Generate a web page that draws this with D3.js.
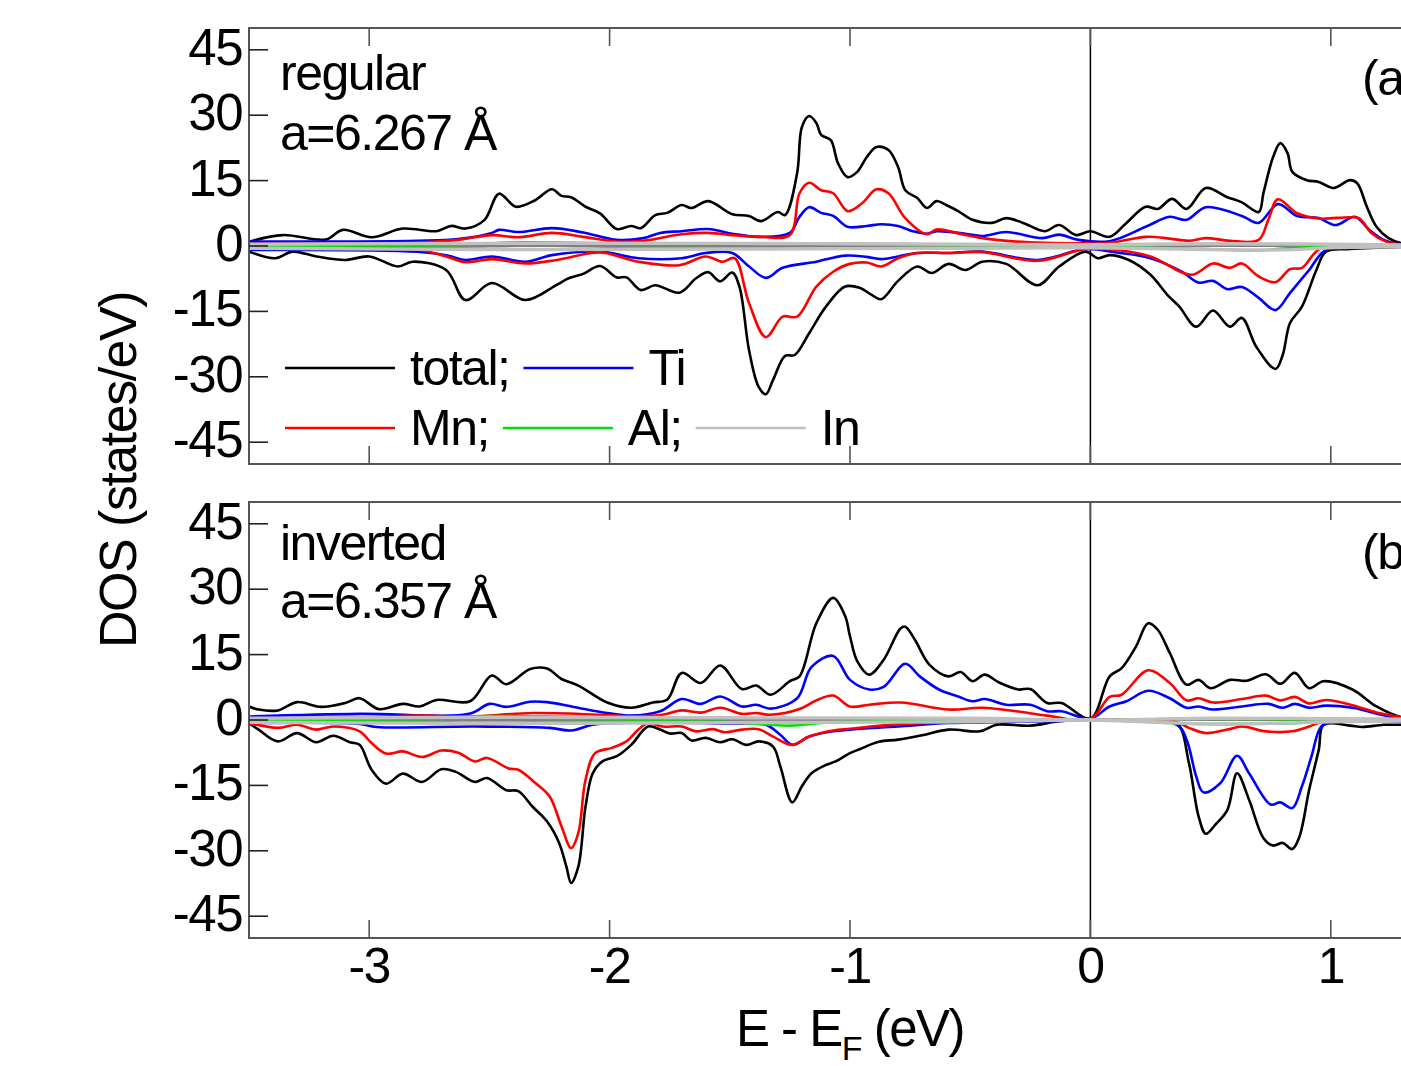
<!DOCTYPE html>
<html>
<head>
<meta charset="utf-8">
<script src="https://cdn.jsdelivr.net/npm/d3@7"></script>
<style>
body { margin: 0; background: #fff; overflow: hidden; }
text { font-family: "Liberation Sans", Arial, sans-serif; fill: #000; letter-spacing: -1.5px; }
</style>
</head>
<body>
<script>
"use strict";

var width = 1401,
    height = 1066;

var xTicks = [-3, -2, -1, 0, 1];
var yTicks = [-45, -30, -15, 0, 15, 30, 45];

var seriesNames = ["total", "Ti", "Mn", "Al", "In"];
var seriesColors = ["#000000", "#0000ff", "#ff0000", "#00e000", "#c0c0c0"];

// ---- panel (a): regular, a=6.267 A  -- [E (eV), DOS]
var aTotalUp = [[-3.5,1.0],[-3.36,2.5],[-3.18,1.5],[-3.11,3.7],[-2.99,2.0],[-2.86,4.0],[-2.72,3.4],[-2.66,4.6],[-2.60,4.0],[-2.52,6.0],[-2.46,12.0],[-2.39,9.0],[-2.31,10.5],[-2.24,13.0],[-2.20,11.5],[-2.16,11.2],[-2.10,9.0],[-2.04,7.5],[-1.97,3.9],[-1.91,4.6],[-1.87,4.1],[-1.81,7.1],[-1.76,7.6],[-1.70,9.4],[-1.66,8.7],[-1.59,10.3],[-1.49,7.3],[-1.42,6.9],[-1.37,5.7],[-1.30,7.8],[-1.27,7.1],[-1.22,16.7],[-1.20,27.3],[-1.17,29.8],[-1.14,28.2],[-1.12,25.5],[-1.08,24.3],[-1.05,19],[-1.01,15.8],[-0.97,17],[-0.93,20.4],[-0.89,22.7],[-0.84,22],[-0.80,18.1],[-0.77,12.8],[-0.72,11],[-0.68,8.7],[-0.64,10.3],[-0.60,9.4],[-0.55,8],[-0.49,6],[-0.41,5.3],[-0.35,6.4],[-0.28,5.3],[-0.19,3.4],[-0.13,4.8],[-0.06,2.5],[0.0,3.4],[0.08,2.1],[0.15,5.3],[0.23,9],[0.28,8.5],[0.34,10.8],[0.40,8.5],[0.48,13.3],[0.57,11.2],[0.63,10],[0.70,7.8],[0.72,12.2],[0.76,20.4],[0.79,23.6],[0.82,21.3],[0.84,17],[0.90,15.1],[0.95,14.7],[1.01,13.3],[1.08,15.1],[1.11,14.4],[1.15,9],[1.19,4.4],[1.24,1.8],[1.29,0.7],[1.35,0.3],[1.5,0.2]];
var aTotalDown = [[-3.5,-1.3],[-3.39,-2.8],[-3.32,-1.3],[-3.22,-2.4],[-3.10,-3.2],[-3.0,-2.4],[-2.88,-4.7],[-2.82,-3.6],[-2.68,-5.5],[-2.60,-12.4],[-2.49,-8.5],[-2.35,-12.4],[-2.22,-8.9],[-2.17,-7.4],[-2.11,-6.4],[-2.04,-4.6],[-1.97,-7.2],[-1.93,-7.2],[-1.87,-10.1],[-1.81,-9],[-1.71,-10.7],[-1.64,-7.4],[-1.59,-6],[-1.54,-8.1],[-1.49,-6.1],[-1.46,-9.3],[-1.42,-23.9],[-1.38,-32.3],[-1.35,-34],[-1.32,-30.7],[-1.27,-25.2],[-1.23,-25],[-1.17,-20],[-1.10,-13.9],[-1.02,-9.3],[-0.96,-9.6],[-0.91,-11.2],[-0.87,-12.2],[-0.80,-8],[-0.72,-4.7],[-0.66,-6.2],[-0.59,-4.1],[-0.52,-5.5],[-0.45,-3.6],[-0.35,-4.1],[-0.22,-9],[-0.13,-4.7],[-0.02,-1.3],[0.03,-2.8],[0.08,-2.1],[0.16,-3.2],[0.25,-6.6],[0.32,-11.2],[0.37,-13.9],[0.44,-18.5],[0.51,-14.8],[0.58,-18.5],[0.63,-16.5],[0.69,-23.1],[0.77,-28.2],[0.80,-25],[0.83,-17.7],[0.88,-13.9],[0.94,-5.5],[0.98,-1.3],[1.08,-0.7],[1.3,-0.2],[1.5,-0.1]];
var aTiUp = [[-3.5,1],[-2.8,1.2],[-2.63,1.6],[-2.49,3],[-2.46,3.7],[-2.38,3.2],[-2.24,4.1],[-2.11,3.1],[-1.97,1.4],[-1.86,1.8],[-1.79,3],[-1.70,3.4],[-1.59,3.9],[-1.49,2.8],[-1.37,2.1],[-1.25,3],[-1.21,6.7],[-1.17,8.9],[-1.12,7.6],[-1.07,6.9],[-1.01,4.4],[-0.93,4.6],[-0.87,5],[-0.80,4.6],[-0.74,3.4],[-0.68,2.8],[-0.64,3.4],[-0.52,2.8],[-0.45,2.3],[-0.35,3.2],[-0.20,1.8],[-0.13,2.6],[-0.05,1.4],[0.08,1.1],[0.23,4.4],[0.33,6.7],[0.40,6],[0.48,8.9],[0.63,6.9],[0.70,5.3],[0.78,9.6],[0.86,6.9],[0.95,6.4],[1.02,4.8],[1.10,6.7],[1.16,3.7],[1.22,1.4],[1.3,0.3],[1.5,0.1]];
var aTiDown = [[-3.5,-0.9],[-2.8,-1.3],[-2.68,-2.1],[-2.60,-3.2],[-2.49,-2.4],[-2.35,-3.6],[-2.24,-2.1],[-2.04,-1.3],[-1.88,-2.8],[-1.70,-2.8],[-1.60,-1.6],[-1.49,-1.6],[-1.42,-4.7],[-1.35,-7.3],[-1.28,-5],[-1.14,-3.6],[-1.02,-2.2],[-0.93,-2.5],[-0.87,-3],[-0.80,-2.4],[-0.72,-1.6],[-0.59,-1.6],[-0.45,-1.3],[-0.22,-3.2],[-0.02,-0.7],[0.11,-1.5],[0.25,-2.8],[0.38,-5.9],[0.45,-8.4],[0.51,-8],[0.57,-9.9],[0.63,-9.4],[0.70,-11.9],[0.77,-14.7],[0.83,-10.8],[0.91,-5.5],[0.98,-0.9],[1.15,-0.2],[1.5,-0.1]];
var aMnUp = [[-3.5,0.5],[-2.8,0.8],[-2.63,1.4],[-2.49,2.5],[-2.38,2],[-2.24,3],[-2.11,2.1],[-1.97,1],[-1.86,1.2],[-1.70,2.7],[-1.59,3],[-1.47,2.4],[-1.37,2.1],[-1.25,2.5],[-1.21,12.1],[-1.17,14.5],[-1.12,12.8],[-1.07,12.1],[-1.01,8],[-0.95,9.8],[-0.89,13],[-0.84,12.1],[-0.77,6.4],[-0.68,2.7],[-0.64,3.8],[-0.55,2.9],[-0.45,1.8],[-0.31,1],[-0.03,0.6],[0.08,0.7],[0.23,2.1],[0.33,1.7],[0.41,1.2],[0.48,1.8],[0.58,1.2],[0.70,1.4],[0.74,6],[0.78,10.7],[0.86,7.5],[0.95,6.3],[1.08,6.6],[1.12,6.3],[1.17,2.9],[1.23,1],[1.3,0.3],[1.5,0.1]];
var aMnDown = [[-3.5,-0.5],[-2.8,-0.8],[-2.68,-2.4],[-2.60,-3.7],[-2.49,-3],[-2.35,-4],[-2.22,-3.2],[-2.04,-1.5],[-1.88,-3.6],[-1.71,-4.4],[-1.60,-2.4],[-1.53,-3.6],[-1.48,-2.8],[-1.42,-13.1],[-1.35,-20.9],[-1.28,-16.2],[-1.22,-16.2],[-1.14,-9.3],[-1.07,-5.9],[-1.00,-4.1],[-0.93,-3.8],[-0.87,-4.7],[-0.80,-2.8],[-0.72,-1.6],[-0.59,-1.6],[-0.45,-1.4],[-0.22,-3.4],[-0.02,-0.7],[0.11,-0.9],[0.25,-2.4],[0.42,-6.6],[0.51,-4],[0.58,-5],[0.63,-4],[0.70,-7],[0.77,-8.3],[0.83,-5.3],[0.88,-5],[0.96,-0.5],[1.3,0],[1.5,0]];
var aAlUp = [[-3.5,0.2],[-2.6,0.3],[-2.4,0.8],[-2.0,0.6],[-1.6,0.5],[-1.2,0.4],[-0.8,0.4],[-0.4,0.3],[0,0.2],[0.4,0.3],[0.8,0.3],[1.2,0.1],[1.5,0]];
var aAlDown = [[-3.5,-0.2],[-2.6,-0.5],[-2.3,-0.8],[-2.0,-0.5],[-1.5,-0.5],[-1.0,-0.6],[-0.5,-0.4],[0,-0.3],[0.4,-0.6],[0.7,-1.0],[0.8,-0.6],[1.0,-0.2],[1.5,0]];
var aInUp = [[-3.5,0.4],[-2.5,0.6],[-1.5,0.6],[-1.0,0.5],[-0.5,0.4],[0,0.3],[0.5,0.5],[1.0,0.4],[1.5,0.1]];
var aInDown = [[-3.5,-0.5],[-2.5,-0.8],[-1.5,-0.7],[-1.0,-0.6],[-0.5,-0.5],[0,-0.4],[0.5,-0.8],[0.8,-0.9],[1.0,-0.4],[1.5,-0.1]];

// ---- panel (b): inverted, a=6.357 A
var bTotalUp = [[-3.5,3.1],[-3.46,2.4],[-3.38,2.2],[-3.30,4.1],[-3.20,3],[-3.10,3.9],[-3.04,5],[-2.96,2.5],[-2.86,3.7],[-2.79,3.1],[-2.72,4.6],[-2.58,4.3],[-2.49,10.2],[-2.43,8.2],[-2.33,11.7],[-2.26,11.8],[-2.20,9.4],[-2.13,7.9],[-2.01,4],[-1.91,2.8],[-1.82,4],[-1.76,4.7],[-1.70,10.8],[-1.62,8.5],[-1.54,12.5],[-1.45,7.1],[-1.39,7.9],[-1.33,5.8],[-1.25,8.9],[-1.21,10],[-1.14,22.2],[-1.07,28],[-1.02,23.8],[-1.00,19.2],[-0.97,13.5],[-0.92,10.4],[-0.86,13.8],[-0.79,21],[-0.77,21.4],[-0.73,18.4],[-0.67,12.7],[-0.59,10],[-0.54,11],[-0.49,8.9],[-0.44,10.4],[-0.38,8.6],[-0.30,7],[-0.25,7.1],[-0.18,3.9],[-0.12,3.9],[0.0,0.3],[0.08,10],[0.13,11.9],[0.19,16.9],[0.24,22.2],[0.28,20.7],[0.33,15.4],[0.40,8.1],[0.45,9.2],[0.50,7.3],[0.58,9.2],[0.65,9],[0.73,10.5],[0.79,8.3],[0.85,10.8],[0.91,7.3],[0.97,8.9],[1.09,7],[1.19,3.1],[1.29,0.7],[1.4,0.3],[1.5,0.2]];
var bTotalDown = [[-3.5,-0.7],[-3.46,-2.2],[-3.38,-4.9],[-3.30,-3],[-3.22,-5.1],[-3.15,-3.6],[-3.08,-5.1],[-3.04,-5.7],[-2.99,-11.4],[-2.93,-14.6],[-2.86,-12.3],[-2.78,-14.2],[-2.70,-11.3],[-2.64,-11.9],[-2.56,-14.2],[-2.51,-13.3],[-2.43,-16.1],[-2.38,-16.3],[-2.32,-19.9],[-2.26,-23.3],[-2.21,-28.2],[-2.18,-33.6],[-2.16,-37.4],[-2.13,-33.6],[-2.10,-19.8],[-2.07,-12.2],[-2.03,-9.5],[-1.97,-8.3],[-1.91,-5.7],[-1.84,-1.5],[-1.79,-2.2],[-1.75,-3.1],[-1.70,-3],[-1.66,-4.7],[-1.60,-4.1],[-1.54,-5.1],[-1.49,-4.4],[-1.43,-5.7],[-1.38,-4.9],[-1.32,-6.1],[-1.29,-10.6],[-1.24,-18.9],[-1.20,-15.2],[-1.16,-12.2],[-1.10,-10.3],[-1.06,-9.5],[-1.00,-7.6],[-0.96,-6.7],[-0.88,-5],[-0.80,-4.5],[-0.70,-3.5],[-0.59,-2.2],[-0.46,-2.6],[-0.39,-1.1],[-0.25,-1.3],[-0.13,-0.3],[0.0,0],[0.25,-0.2],[0.36,-0.7],[0.41,-9.9],[0.45,-22.1],[0.48,-26.1],[0.52,-24],[0.57,-20.6],[0.61,-12.2],[0.66,-18.3],[0.72,-27.1],[0.76,-28.8],[0.80,-28.2],[0.84,-29.6],[0.87,-26.7],[0.91,-16],[0.95,-6.8],[0.97,-1.1],[1.08,-1.3],[1.13,-1.6],[1.22,-1.1],[1.3,-1.1],[1.5,-0.8]];
var bTiUp = [[-3.5,0.8],[-3.04,1.4],[-2.58,1.5],[-2.50,3.7],[-2.43,3],[-2.33,4.2],[-2.26,4.1],[-2.15,3],[-2.01,1.6],[-1.91,1],[-1.79,2],[-1.70,4.8],[-1.62,3.7],[-1.54,5.4],[-1.45,3.1],[-1.39,3.5],[-1.33,2.6],[-1.22,5],[-1.16,12.2],[-1.07,14.7],[-1.00,9.2],[-0.92,7],[-0.86,7.6],[-0.77,12.9],[-0.71,10],[-0.63,7],[-0.55,5.4],[-0.49,4.3],[-0.44,4.8],[-0.35,3.5],[-0.25,3.5],[-0.18,2],[-0.12,2],[0.0,0.3],[0.08,3.1],[0.15,4.3],[0.24,6.7],[0.33,5],[0.40,2.8],[0.45,3.1],[0.51,2.4],[0.63,3.1],[0.74,3.7],[0.80,2.8],[0.85,3.7],[0.91,2.8],[0.98,3.3],[1.09,2.8],[1.21,1.2],[1.29,0.3],[1.5,0.1]];
var bTiDown = [[-3.5,-0.7],[-3.04,-0.9],[-2.97,-1.6],[-2.56,-1.5],[-2.25,-1.8],[-2.16,-2.4],[-2.07,-1.1],[-1.91,-0.6],[-1.76,-0.6],[-1.62,-0.7],[-1.49,-0.8],[-1.35,-1.1],[-1.29,-3.4],[-1.24,-5.7],[-1.17,-3.8],[-1.07,-2.6],[-1.00,-2.2],[-0.80,-1.5],[-0.59,-0.7],[-0.17,-0.3],[0.0,0],[0.36,-1.1],[0.40,-4.5],[0.44,-12.9],[0.47,-16.6],[0.54,-14.5],[0.61,-8.2],[0.66,-12.2],[0.75,-19.4],[0.79,-18.9],[0.84,-20.2],[0.88,-15.2],[0.92,-8.3],[0.96,-1.5],[1.01,-0.5],[1.3,-0.4],[1.5,-0.3]];
var bMnUp = [[-3.5,0.3],[-3.0,0.6],[-2.8,1],[-2.58,0.8],[-2.32,1.6],[-2.04,1.2],[-1.91,0.8],[-1.78,1.2],[-1.70,2.2],[-1.62,1.7],[-1.54,2.8],[-1.45,1.4],[-1.39,1.6],[-1.33,1.2],[-1.21,2.5],[-1.14,4.5],[-1.07,5.6],[-1.00,3.1],[-0.92,3.5],[-0.79,4],[-0.59,2.4],[-0.45,2.8],[-0.31,2],[-0.18,1],[0.0,0.2],[0.08,5.3],[0.13,5.8],[0.24,11.4],[0.33,8.5],[0.40,4.5],[0.45,5],[0.51,4],[0.63,4.8],[0.73,5.6],[0.79,4.5],[0.85,5.3],[0.91,3.8],[0.98,4.6],[1.09,3.4],[1.19,1.7],[1.29,0.7],[1.4,0.2],[1.5,0.1]];
var bMnDown = [[-3.5,-0.7],[-3.38,-1.8],[-3.30,-1.1],[-3.22,-2.2],[-3.15,-1.5],[-3.04,-2.6],[-2.99,-5.3],[-2.93,-7.7],[-2.86,-7.2],[-2.78,-8.5],[-2.70,-7],[-2.63,-7.5],[-2.56,-9.5],[-2.51,-8.7],[-2.42,-11.1],[-2.38,-11.4],[-2.31,-14.4],[-2.25,-17.5],[-2.20,-24.4],[-2.16,-29.4],[-2.13,-25.9],[-2.10,-13.7],[-2.06,-7.6],[-1.99,-6.4],[-1.93,-4.9],[-1.88,-2.2],[-1.84,-0.7],[-1.78,-1.5],[-1.70,-1.5],[-1.64,-2.6],[-1.57,-2.1],[-1.52,-2.8],[-1.45,-2.2],[-1.38,-2.1],[-1.32,-3.8],[-1.24,-5.7],[-1.17,-3.8],[-1.07,-2.4],[-1.00,-2],[-0.80,-1],[-0.59,-0.5],[0.0,0],[0.36,-0.5],[0.41,-1.8],[0.48,-3],[0.57,-2.2],[0.63,-1.5],[0.73,-2.6],[0.84,-2.6],[0.91,-1.5],[0.96,-0.5],[1.5,-0.3]];
var bAlUp = [[-3.5,0.2],[-2.8,0.4],[-2.5,0.9],[-2.2,0.8],[-1.8,0.5],[-1.4,0.4],[-1.0,0.3],[-0.5,0.2],[0,0],[0.4,0.3],[0.8,0.2],[1.2,0.1],[1.5,0]];
var bAlDown = [[-3.5,-0.2],[-2.8,-0.4],[-2.5,-0.6],[-2.0,-0.4],[-1.5,-0.5],[-1.25,-1.3],[-1.1,-0.6],[-0.5,-0.2],[0,0],[0.3,-0.6],[0.45,-0.9],[0.8,-0.8],[1.0,-0.3],[1.5,-0.1]];
var bInUp = [[-3.5,0.4],[-2.5,0.6],[-1.5,0.5],[-0.5,0.4],[0,0],[0.5,0.4],[1.0,0.3],[1.5,0.1]];
var bInDown = [[-3.5,-0.5],[-2.5,-0.8],[-1.5,-0.6],[-0.5,-0.4],[0,0],[0.5,-0.9],[0.8,-0.7],[1.0,-0.4],[1.5,-0.2]];

var panels = [
    { top: 28, bottom: 464, tag: "(a)", note: ["regular", "a=6.267 \u00c5"], noteY: [90, 150],
      up: [aTotalUp, aTiUp, aMnUp, aAlUp, aInUp],
      down: [aTotalDown, aTiDown, aMnDown, aAlDown, aInDown] },
    { top: 502, bottom: 938, tag: "(b)", note: ["inverted", "a=6.357 \u00c5"], noteY: [560, 618],
      up: [bTotalUp, bTiUp, bMnUp, bAlUp, bInUp],
      down: [bTotalDown, bTiDown, bMnDown, bAlDown, bInDown] }
];

var left = 249, right = 1451;

var svg = d3.select("body")
    .append("svg")
    .attr("width", width)
    .attr("height", height);

var x = d3.scaleLinear().domain([-3.5, 1.5]).range([left, right]);

panels.forEach(function (p, i) {
    var y = d3.scaleLinear().domain([-50, 50]).range([p.bottom, p.top]);
    var g = svg.append("g").attr("class", "panel");

    g.append("clipPath").attr("id", "clip" + i)
        .append("rect")
        .attr("x", left).attr("y", p.top)
        .attr("width", right - left).attr("height", p.bottom - p.top);

    var plot = g.append("g").attr("clip-path", "url(#clip" + i + ")");

    // Fermi level
    plot.append("line")
        .attr("x1", x(0)).attr("x2", x(0))
        .attr("y1", p.top).attr("y2", p.bottom)
        .attr("stroke", "#000").attr("stroke-width", 1.5);

    // faint zero line under the small Al/In curves
    plot.append("line")
        .attr("x1", left).attr("x2", right)
        .attr("y1", y(0)).attr("y2", y(0))
        .attr("stroke", "#000").attr("stroke-width", 1);

    var line = d3.line()
        .x(function (d) { return x(d[0]); })
        .y(function (d) { return y(d[1]); })
        .curve(d3.curveCatmullRom.alpha(0.5));

    seriesNames.forEach(function (name, k) {
        [p.up[k], p.down[k]].forEach(function (s) {
            plot.append("path")
                .datum(s)
                .attr("d", line)
                .attr("fill", "none")
                .attr("stroke", seriesColors[k])
                .attr("stroke-width", k === 4 ? 3.4 : 2.6)
                .attr("stroke-linejoin", "round");
        });
    });

    // frame
    g.append("rect")
        .attr("x", left).attr("y", p.top)
        .attr("width", right - left).attr("height", p.bottom - p.top)
        .attr("fill", "none").attr("stroke", "#555").attr("stroke-width", 2);

    // y ticks (inside) and labels
    g.selectAll(".ytick").data(yTicks).enter()
        .append("line")
        .attr("x1", left).attr("x2", left + 19)
        .attr("y1", function (d) { return y(d); })
        .attr("y2", function (d) { return y(d); })
        .attr("stroke", "#222").attr("stroke-width", 1.6);
    g.selectAll(".ylab").data(yTicks).enter()
        .append("text")
        .attr("x", 242)
        .attr("y", function (d) { return y(d) + 15; })
        .attr("text-anchor", "end")
        .attr("font-size", 51)
        .text(function (d) { return d; });

    // x ticks top and bottom (inside)
    g.selectAll(".xtick").data(xTicks).enter()
        .append("line")
        .attr("x1", function (d) { return x(d); })
        .attr("x2", function (d) { return x(d); })
        .attr("y1", p.top).attr("y2", p.top + 18)
        .attr("stroke", "#555").attr("stroke-width", 1.6);
    g.selectAll(".xtickb").data(xTicks).enter()
        .append("line")
        .attr("x1", function (d) { return x(d); })
        .attr("x2", function (d) { return x(d); })
        .attr("y1", p.bottom).attr("y2", p.bottom - 18)
        .attr("stroke", "#555").attr("stroke-width", 1.6);

    // panel notes
    p.note.forEach(function (t, j) {
        g.append("text")
            .attr("x", 280).attr("y", p.noteY[j])
            .attr("font-size", 50)
            .text(t);
    });
    g.append("text")
        .attr("x", 1362).attr("y", p.top + 67)
        .attr("font-size", 50)
        .text(p.tag);

    if (i === 1) {
        g.selectAll(".xlab").data(xTicks).enter()
            .append("text")
            .attr("x", function (d) { return x(d); })
            .attr("y", 983)
            .attr("text-anchor", "middle")
            .attr("font-size", 50)
            .text(function (d) { return d; });
    }
});

// legend in panel (a)
var legendRows = [[0, 1], [2, 3, 4]];
var legendLabels = ["total;", "Ti", "Mn;", "Al;", "In"];
var legend = svg.append("g").attr("id", "legend");
legendRows.forEach(function (row, r) {
    var cx = 285;
    var ly = 368 + r * 60;
    row.forEach(function (k) {
        legend.append("line")
            .attr("x1", cx).attr("x2", cx + 110)
            .attr("y1", ly).attr("y2", ly)
            .attr("stroke", seriesColors[k]).attr("stroke-width", 2.6);
        cx += 125;
        var t = legend.append("text")
            .attr("x", cx).attr("y", ly + 17)
            .attr("font-size", 50)
            .text(legendLabels[k]);
        cx += t.node().getComputedTextLength() + 14;
    });
});

// axis titles
var xt = svg.append("text")
    .attr("x", 850).attr("y", 1046)
    .attr("text-anchor", "middle")
    .attr("font-size", 51);
xt.append("tspan").text("E - E");
xt.append("tspan").attr("font-size", 34).attr("dy", 14).text("F");
xt.append("tspan").attr("dy", -14).text(" (eV)");

svg.append("text")
    .attr("transform", "translate(136,470) rotate(-90)")
    .attr("text-anchor", "middle")
    .attr("font-size", 52)
    .text("DOS (states/eV)");
</script>
</body>
</html>
